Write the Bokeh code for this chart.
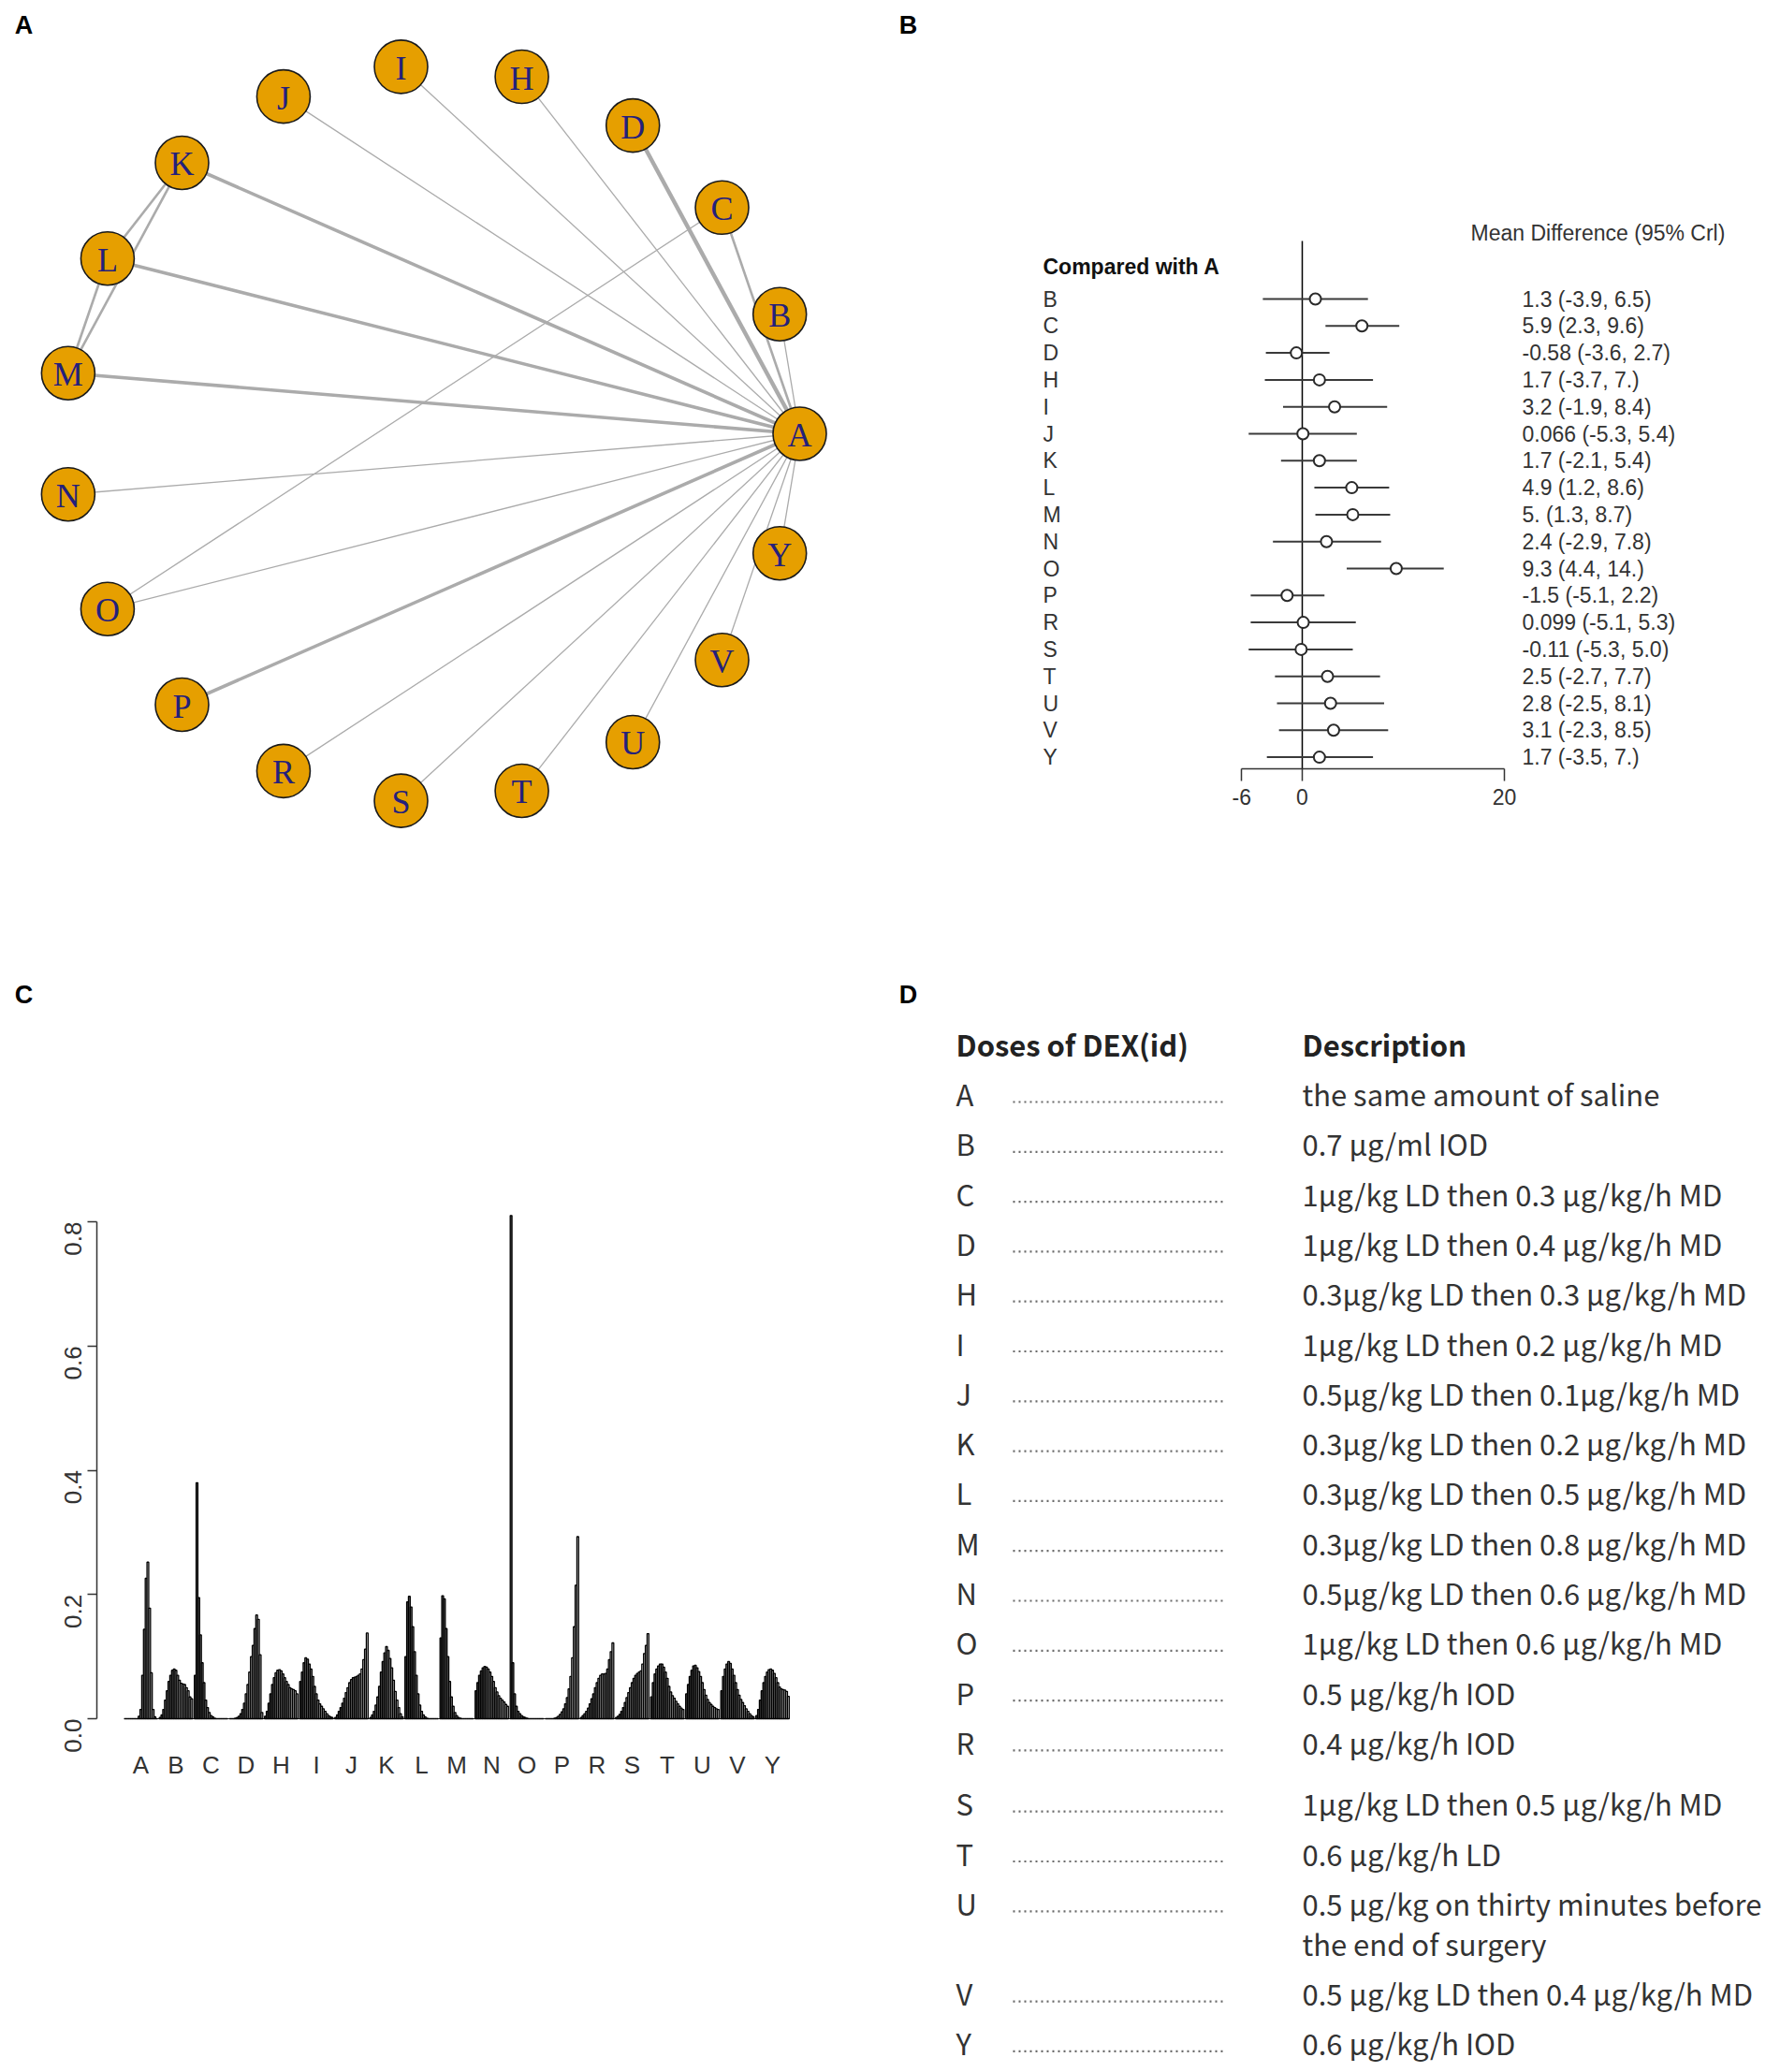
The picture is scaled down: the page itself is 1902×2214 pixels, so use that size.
import math
from bokeh.plotting import figure
from bokeh.layouts import row, column
from bokeh.models import Range1d, FixedTicker, LinearAxis, NumeralTickFormatter
from bokeh.embed import file_html
from bokeh.resources import INLINE
from bokeh.core.properties import value

# ---------------- data ----------------
treatments = ["A", "B", "C", "D", "H", "I", "J", "K", "L", "M",
              "N", "O", "P", "R", "S", "T", "U", "V", "Y"]

# Panel A: network edges (number of direct comparisons drives the width)
edge_from = ["A", "A", "A", "A", "A", "A", "A", "A", "A", "A", "A",
             "A", "A", "A", "A", "A", "A", "A", "C", "K", "K", "L"]
edge_to = ["B", "C", "D", "H", "I", "J", "K", "L", "M", "N", "O",
           "P", "R", "S", "T", "U", "V", "Y", "O", "L", "M", "M"]
edge_n = [1, 2, 4, 1, 1, 1, 3, 3, 3, 1, 1, 3, 1, 1, 1, 1, 1, 1, 1, 2, 2, 2]

# Panel B: forest plot, compared with A
fp_labels = ["B", "C", "D", "H", "I", "J", "K", "L", "M", "N",
             "O", "P", "R", "S", "T", "U", "V", "Y"]
fp_mean = [1.3, 5.9, -0.58, 1.7, 3.2, 0.066, 1.7, 4.9, 5.0, 2.4,
           9.3, -1.5, 0.099, -0.11, 2.5, 2.8, 3.1, 1.7]
fp_lo = [-3.9, 2.3, -3.6, -3.7, -1.9, -5.3, -2.1, 1.2, 1.3, -2.9,
         4.4, -5.1, -5.1, -5.3, -2.7, -2.5, -2.3, -3.5]
fp_hi = [6.5, 9.6, 2.7, 7.0, 8.4, 5.4, 5.4, 8.6, 8.7, 7.8,
         14.0, 2.2, 5.3, 5.0, 7.7, 8.1, 8.5, 7.0]
fp_text = ["1.3 (-3.9, 6.5)", "5.9 (2.3, 9.6)", "-0.58 (-3.6, 2.7)",
           "1.7 (-3.7,  7.)", "3.2 (-1.9, 8.4)", "0.066 (-5.3, 5.4)",
           "1.7 (-2.1, 5.4)", "4.9 (1.2, 8.6)", " 5. (1.3, 8.7)",
           "2.4 (-2.9, 7.8)", "9.3 (4.4, 14.)", "-1.5 (-5.1, 2.2)",
           "0.099 (-5.1, 5.3)", "-0.11 (-5.3, 5.0)", "2.5 (-2.7, 7.7)",
           "2.8 (-2.5, 8.1)", "3.1 (-2.3, 8.5)", "1.7 (-3.5,  7.)"]
fp_ticks = [-6, 0, 20]
fp_tick_text = ["-6", "0", "20"]

# Panel C: rank probabilities (ranks 1..19) per treatment
prob_A = [0, 0, 0, 0, 0, 0, 0, 0, 0.004, 0.015, 0.07, 0.144, 0.226, 0.252, 0.178, 0.074, 0.015, 0.003, 0]
prob_B = [0.002, 0.006, 0.015, 0.03, 0.045, 0.06, 0.07, 0.078, 0.08, 0.078, 0.07, 0.062, 0.057, 0.056, 0.055, 0.05, 0.045, 0.035, 0.032]
prob_C = [0.07, 0.38, 0.195, 0.135, 0.09, 0.058, 0.03, 0.018, 0.01, 0.005, 0.003, 0.001, 0, 0, 0, 0, 0, 0, 0]
prob_D = [0, 0, 0, 0.001, 0.002, 0.004, 0.008, 0.015, 0.025, 0.04, 0.055, 0.075, 0.1, 0.118, 0.145, 0.167, 0.16, 0.103, 0.01]
prob_H = [0.004, 0.012, 0.025, 0.04, 0.055, 0.066, 0.074, 0.078, 0.079, 0.077, 0.072, 0.066, 0.06, 0.055, 0.05, 0.048, 0.047, 0.045, 0.04]
prob_I = [0.06, 0.075, 0.09, 0.098, 0.096, 0.088, 0.08, 0.068, 0.052, 0.04, 0.03, 0.024, 0.02, 0.016, 0.012, 0.008, 0.005, 0.003, 0.002]
prob_J = [0.002, 0.006, 0.012, 0.018, 0.025, 0.033, 0.042, 0.05, 0.058, 0.063, 0.066, 0.067, 0.068, 0.07, 0.072, 0.08, 0.095, 0.112, 0.138]
prob_K = [0.002, 0.006, 0.012, 0.022, 0.035, 0.052, 0.075, 0.092, 0.106, 0.116, 0.11, 0.097, 0.082, 0.062, 0.044, 0.03, 0.018, 0.008, 0.003]
prob_L = [0.1, 0.188, 0.197, 0.18, 0.148, 0.108, 0.07, 0.04, 0.022, 0.012, 0.006, 0.003, 0.001, 0, 0, 0, 0, 0, 0]
prob_M = [0.13, 0.198, 0.193, 0.145, 0.1, 0.06, 0.035, 0.02, 0.01, 0.005, 0.002, 0.001, 0, 0, 0, 0, 0, 0, 0]
prob_N = [0.045, 0.058, 0.07, 0.077, 0.082, 0.084, 0.083, 0.08, 0.075, 0.068, 0.06, 0.05, 0.043, 0.037, 0.033, 0.03, 0.027, 0.023, 0.02]
prob_O = [0.81, 0.09, 0.04, 0.02, 0.012, 0.008, 0.005, 0.003, 0.002, 0.001, 0, 0, 0, 0, 0, 0, 0, 0, 0]
prob_P = [0, 0, 0, 0, 0, 0.001, 0.002, 0.004, 0.007, 0.011, 0.016, 0.024, 0.034, 0.048, 0.068, 0.098, 0.148, 0.215, 0.293]
prob_R = [0.002, 0.005, 0.008, 0.012, 0.017, 0.024, 0.032, 0.04, 0.05, 0.058, 0.065, 0.07, 0.072, 0.072, 0.073, 0.08, 0.095, 0.108, 0.122]
prob_S = [0.002, 0.004, 0.007, 0.012, 0.018, 0.026, 0.034, 0.042, 0.05, 0.058, 0.065, 0.07, 0.073, 0.075, 0.077, 0.088, 0.105, 0.118, 0.137]
prob_T = [0.035, 0.058, 0.072, 0.08, 0.085, 0.088, 0.088, 0.083, 0.075, 0.065, 0.052, 0.043, 0.037, 0.033, 0.028, 0.024, 0.02, 0.017, 0.015]
prob_U = [0.04, 0.055, 0.068, 0.078, 0.085, 0.086, 0.082, 0.076, 0.068, 0.058, 0.047, 0.038, 0.031, 0.026, 0.023, 0.02, 0.018, 0.016, 0.015]
prob_V = [0.045, 0.068, 0.08, 0.088, 0.092, 0.089, 0.08, 0.07, 0.058, 0.047, 0.038, 0.031, 0.026, 0.021, 0.016, 0.012, 0.008, 0.005, 0.003]
prob_Y = [0.005, 0.015, 0.03, 0.045, 0.058, 0.068, 0.075, 0.079, 0.08, 0.078, 0.073, 0.066, 0.058, 0.051, 0.048, 0.047, 0.046, 0.044, 0.036]
rank_probs = [prob_A, prob_B, prob_C, prob_D, prob_H, prob_I, prob_J, prob_K, prob_L, prob_M,
              prob_N, prob_O, prob_P, prob_R, prob_S, prob_T, prob_U, prob_V, prob_Y]
c_ticks = [0.0, 0.2, 0.4, 0.6, 0.8]

# Panel D: dose table
dose_header = ["Doses of DEX(id)", "Description"]
dose_desc = ["the same amount of saline",
             "0.7 μg/ml IOD",
             "1μg/kg LD then 0.3 μg/kg/h MD",
             "1μg/kg LD then 0.4 μg/kg/h MD",
             "0.3μg/kg LD then 0.3 μg/kg/h MD",
             "1μg/kg LD then 0.2 μg/kg/h MD",
             "0.5μg/kg LD then 0.1μg/kg/h MD",
             "0.3μg/kg LD then 0.2 μg/kg/h MD",
             "0.3μg/kg LD then 0.5 μg/kg/h MD",
             "0.3μg/kg LD then 0.8 μg/kg/h MD",
             "0.5μg/kg LD then 0.6 μg/kg/h MD",
             "1μg/kg LD then 0.6 μg/kg/h MD",
             "0.5 μg/kg/h IOD",
             "0.4 μg/kg/h IOD",
             "1μg/kg LD then 0.5 μg/kg/h MD",
             "0.6 μg/kg/h LD",
             "0.5 μg/kg on thirty minutes before\nthe end of surgery",
             "0.5 μg/kg LD then 0.4 μg/kg/h MD",
             "0.6 μg/kg/h IOD"]

panel_letters = ["A", "B", "C", "D"]

# ---------------- helpers ----------------
SANS = "Liberation Sans"


def base_fig(w, h, xr, yr, left=0, right=0, top=0, bottom=0):
    p = figure(width=w, height=h, x_range=xr, y_range=yr,
               output_backend="svg", toolbar_location=None,
               x_axis_type=None, y_axis_type=None,
               min_border_left=left, min_border_right=right,
               min_border_top=top, min_border_bottom=bottom,
               frame_align=False)
    p.outline_line_color = None
    p.background_fill_color = "white"
    p.border_fill_color = "white"
    return p


def letter(p, x, y, s):
    p.text(x=[x], y=[y], text=[s], text_font=value(SANS), text_font_style="bold",
           text_font_size="27px", text_align="center", text_baseline="middle",
           text_color="black")


# ---------------- Panel A : network ----------------
pa = base_fig(950, 1080, Range1d(0, 950), Range1d(1080, 0))
cx, cy, R = 460.5, 463.0, 393.5
nx = {t: cx + R * math.cos(2 * math.pi * i / len(treatments)) for i, t in enumerate(treatments)}
ny = {t: cy - R * math.sin(2 * math.pi * i / len(treatments)) for i, t in enumerate(treatments)}
width_of = {1: 1.3, 2: 2.6, 3: 3.6, 4: 4.4}
pa.segment(x0=[nx[a] for a in edge_from], y0=[ny[a] for a in edge_from],
           x1=[nx[b] for b in edge_to], y1=[ny[b] for b in edge_to],
           line_color="#ABABAB", line_width=[width_of[n] for n in edge_n])
pa.circle(x=[nx[t] for t in treatments], y=[ny[t] for t in treatments], radius=28.5,
          fill_color="#E69F00", line_color="#1a1a1a", line_width=1.6)
pa.text(x=[nx[t] for t in treatments], y=[ny[t] + 1.5 for t in treatments], text=treatments,
        text_font=value("Liberation Serif"), text_font_size="36px",
        text_align="center", text_baseline="middle", text_color="#24207C")
letter(pa, 25, 26, panel_letters[0])
letter(pa, 25, 1062, panel_letters[2])

# ---------------- Panel B : forest plot ----------------
x0_px, ppu = 1391.0, 10.8          # pixel of 0 and pixels per unit
row0, rstep = 319.0, 28.8           # pixel of first row, row step
frame_bottom = 821.0
B_L, B_R, B_H = 950, 1894, 1048
pb = base_fig(B_R - B_L, B_H,
              Range1d((B_L - x0_px) / ppu, (B_R - x0_px) / ppu),
              Range1d((frame_bottom - row0) / rstep, (0 - row0) / rstep),
              bottom=int(B_H - frame_bottom))
rows = list(range(len(fp_labels)))
pb.segment(x0=[0], y0=[(257 - row0) / rstep], x1=[0], y1=[(frame_bottom - row0) / rstep],
           line_color="black", line_width=1.5)
pb.segment(x0=fp_lo, y0=rows, x1=fp_hi, y1=rows, line_color="#3a3a3a", line_width=2)
pb.scatter(x=fp_mean, y=rows, marker="circle", size=12, fill_color="white",
           line_color="#2a2a2a", line_width=2)
lab_x = (1114 - x0_px) / ppu
val_x = (1626 - x0_px) / ppu
pb.text(x=[lab_x] * len(rows), y=rows, text=fp_labels, text_font=value(SANS),
        text_font_size="23px", text_baseline="middle", text_color="#333333")
pb.text(x=[val_x] * len(rows), y=rows, text=fp_text, text_font=value(SANS),
        text_font_size="23px", text_baseline="middle", text_color="#333333")
pb.text(x=[lab_x], y=[(284 - row0) / rstep], text=["Compared with A"], text_font=value(SANS),
        text_font_style="bold", text_font_size="23px", text_baseline="middle", text_color="#111111")
pb.text(x=[(1571 - x0_px) / ppu], y=[(248 - row0) / rstep], text=["Mean Difference (95% Crl)"],
        text_font=value(SANS), text_font_size="23px", text_baseline="middle", text_color="#333333")
letter(pb, (970 - x0_px) / ppu, (26 - row0) / rstep, panel_letters[1])
ax_b = LinearAxis(bounds=(fp_ticks[0], fp_ticks[-1]), ticker=FixedTicker(ticks=fp_ticks),
                  major_label_overrides={t: s for t, s in zip(fp_ticks, fp_tick_text)})
ax_b.axis_line_color = "#333333"
ax_b.axis_line_width = 1.5
ax_b.major_tick_line_color = "#333333"
ax_b.major_tick_line_width = 1.5
ax_b.major_tick_out = 13
ax_b.major_tick_in = 0
ax_b.minor_tick_out = 0
ax_b.minor_tick_in = 0
ax_b.major_label_standoff = 8
ax_b.major_label_text_font = SANS
ax_b.major_label_text_font_size = "23px"
ax_b.major_label_text_color = "#333333"
pb.add_layout(ax_b, "below")

# ---------------- Panel C : rankogram ----------------
c_x0, c_ppu = 150.0, 1.875     # pixel of group-A centre, pixels per bar unit
c_y0, c_ppv = 1836.0, 663.75   # pixel of 0.0, pixels per probability unit
C_T, C_B, C_W = 1080, 2206, 950
c_left, c_bottom = 103.0, 1850.0
pc = base_fig(C_W, C_B - C_T,
              Range1d((c_left - c_x0) / c_ppu, (C_W - c_x0) / c_ppu),
              Range1d((c_y0 - c_bottom) / c_ppv, (c_y0 - C_T) / c_ppv),
              left=int(c_left), bottom=int(C_B - c_bottom))
nr = len(rank_probs[0])
g0, g1 = 0.3 ** 2.2, 0.9 ** 2.2
grays = []
for k in range(nr):
    lv = int(round(255 * (g0 + (g1 - g0) * k / (nr - 1)) ** (1 / 2.2)))
    grays.append("#%02x%02x%02x" % (lv, lv, lv))
bx, bt, bc = [], [], []
for g, probs in enumerate(rank_probs):
    for k, v in enumerate(probs):
        bx.append(20 * g + k - (nr - 1) / 2)
        bt.append(v)
        bc.append(grays[k])
pc.segment(x0=[min(bx) - 0.5], y0=[0], x1=[max(bx) + 0.5], y1=[0], line_color="#222222", line_width=1.2)
pc.vbar(x=bx, top=bt, bottom=0, width=1.0, fill_color=bc, line_color="black", line_width=1.3)
ax_cy = LinearAxis(bounds=(c_ticks[0], c_ticks[-1]), ticker=FixedTicker(ticks=c_ticks),
                   formatter=NumeralTickFormatter(format="0.0"))
ax_cy.axis_line_color = "#333333"
ax_cy.axis_line_width = 1.5
ax_cy.major_tick_line_color = "#333333"
ax_cy.major_tick_line_width = 1.5
ax_cy.major_tick_out = 10
ax_cy.major_tick_in = 0
ax_cy.minor_tick_out = 0
ax_cy.minor_tick_in = 0
ax_cy.major_label_standoff = 16
ax_cy.major_label_orientation = math.pi / 2
ax_cy.major_label_text_font = SANS
ax_cy.major_label_text_font_size = "26px"
ax_cy.major_label_text_color = "#333333"
pc.add_layout(ax_cy, "left")
gticks = [20 * g for g in range(len(treatments))]
ax_cx = LinearAxis(ticker=FixedTicker(ticks=gticks),
                   major_label_overrides={t: n for t, n in zip(gticks, treatments)})
ax_cx.axis_line_color = None
ax_cx.major_tick_line_color = None
ax_cx.major_tick_out = 0
ax_cx.major_tick_in = 0
ax_cx.minor_tick_out = 0
ax_cx.minor_tick_in = 0
ax_cx.major_label_standoff = 20
ax_cx.major_label_text_font = SANS
ax_cx.major_label_text_font_size = "26px"
ax_cx.major_label_text_color = "#333333"
pc.add_layout(ax_cx, "below")

# ---------------- Panel D : table ----------------
D_T = 1048
pd_ = base_fig(B_R - B_L, C_B - D_T, Range1d(B_L, B_R), Range1d(C_B, D_T))
TFONT = "Noto Sans CJK SC"
letter(pd_, 970, 1062, panel_letters[3])
pd_.text(x=[1021, 1391], y=[1115, 1115], text=dose_header, text_font=value(TFONT),
         text_font_style="bold", text_font_size="31px", text_baseline="middle", text_color="#222222")
y = 1168.0
row_y, line_x, line_y, line_t = [], [], [], []
for i, (t, d) in enumerate(zip(treatments, dose_desc)):
    if t == "S":
        y += 12
    row_y.append(y)
    parts = d.split("\n")
    for j, part in enumerate(parts):
        line_x.append(1391)
        line_y.append(y + 43 * j)
        line_t.append(part)
    y += 53.3 + 43 * (len(parts) - 1)
pd_.text(x=[1021] * len(treatments), y=row_y, text=treatments, text_font=value(TFONT),
         text_font_size="31px", text_baseline="middle", text_color="#333333")
pd_.segment(x0=[1082] * len(row_y), y0=[v + 9 for v in row_y], x1=[1308] * len(row_y),
            y1=[v + 9 for v in row_y], line_color="#6a6a6a", line_width=2.2, line_dash="2 4")
pd_.text(x=line_x, y=line_y, text=line_t, text_font=value(TFONT),
         text_font_size="31px", text_baseline="middle", text_color="#333333")

layout = row(column(pa, pc), column(pb, pd_))
open("out.html", "w").write(file_html(layout, INLINE))
